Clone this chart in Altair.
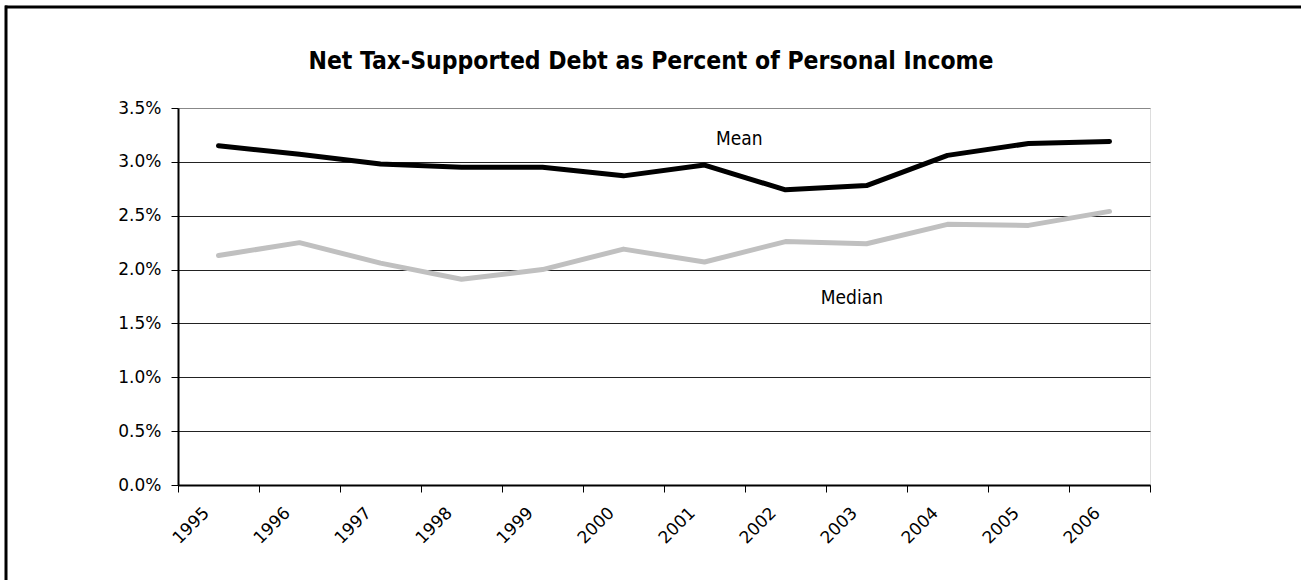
import altair as alt
import pandas as pd

years = list(range(1995, 2007))
mean_pct = [3.15, 3.07, 2.98, 2.95, 2.95, 2.87, 2.97, 2.74, 2.78, 3.06, 3.17, 3.19]
median_pct = [2.13, 2.25, 2.06, 1.91, 2.00, 2.19, 2.07, 2.26, 2.24, 2.42, 2.41, 2.54]
series_names = ["Mean", "Median"]
series_colors = ["#000000", "#c0c0c0"]
title_text = "Net Tax-Supported Debt as Percent of Personal Income"
y_ticks = [0, 0.005, 0.01, 0.015, 0.02, 0.025, 0.03, 0.035]

# annotation labels (data units)
label_text = ["Mean", "Median"]
label_year = [2001.43, 2002.82]
label_value = [0.0316, 0.0168]

NARROW = "Liberation Sans Narrow, Arial Narrow, DejaVu Sans Condensed, sans-serif"
TICKFONT = "DejaVu Sans"

df = pd.DataFrame({
    "year": years * 2,
    "value": [v / 100 for v in mean_pct + median_pct],
    "series": [series_names[0]] * len(years) + [series_names[1]] * len(years),
})
labels_df = pd.DataFrame({"text": label_text, "year": label_year, "value": label_value})
title_df = pd.DataFrame({"text": [title_text]})
one = pd.DataFrame({"a": [0]})

W, H = 972, 377
PAD_L, PAD_T = 178, 108
TOTAL_W, TOTAL_H = 1301, 580

x_scale = alt.Scale(domain=[years[0] - 0.5, years[-1] + 0.5], nice=False, zero=False)
y_scale = alt.Scale(domain=[0, 0.035], nice=False)
x_tick_values = [y - 0.5 for y in years] + [years[-1] + 0.5]

x_axis = alt.Axis(
    values=x_tick_values,
    labelExpr="datum.value < 2006 ? format(datum.value + 0.5, 'd') : ''",
    labelAngle=315, labelAlign="right", labelBaseline="middle",
    labelOffset=28, labelPadding=18,
    tickSize=7, tickColor="black", tickWidth=1,
    domainColor="black", domainWidth=2,
    grid=False, title=None,
    labelFont=TICKFONT, labelFontSize=17, labelColor="black",
)
y_axis = alt.Axis(
    values=y_ticks, format=".1%",
    tickSize=7, tickColor="black", tickWidth=1,
    domainColor="black", domainWidth=2,
    grid=True,
    gridColor=alt.condition("datum.value >= 0.035", alt.value("#888888"), alt.value("#222222")),
    gridWidth=1,
    labelPadding=10, title=None,
    labelFont=TICKFONT, labelFontSize=17, labelColor="black",
)

lines = alt.Chart(df).mark_line(strokeWidth=5, strokeJoin="round", strokeCap="round").encode(
    x=alt.X("year:Q", scale=x_scale, axis=x_axis),
    y=alt.Y("value:Q", scale=y_scale, axis=y_axis),
    color=alt.Color("series:N", scale=alt.Scale(domain=series_names, range=series_colors), legend=None),
    detail="series:N",
)

texts = alt.Chart(labels_df).mark_text(
    font=NARROW, fontSize=19, color="black", align="center", baseline="alphabetic"
).encode(
    x=alt.X("year:Q", scale=x_scale),
    y=alt.Y("value:Q", scale=y_scale),
    text="text:N",
)

title = alt.Chart(title_df).mark_text(
    font=NARROW, fontSize=24.5, fontWeight="bold", color="black", align="center", baseline="alphabetic"
).encode(
    x=alt.value(651 - PAD_L), y=alt.value(69 - PAD_T), text="text:N",
)

# outer frame: left and top edges only, drawn as thin filled bars
border_top = alt.Chart(one).mark_rect(fill="black", stroke=None, strokeWidth=0).encode(
    x=alt.value(5 - PAD_L), x2=alt.value(TOTAL_W + 40 - PAD_L),
    y=alt.value(5.5 - PAD_T), y2=alt.value(8.5 - PAD_T),
)
border_left = alt.Chart(one).mark_rect(fill="black", stroke=None, strokeWidth=0).encode(
    x=alt.value(4.5 - PAD_L), x2=alt.value(7.5 - PAD_L),
    y=alt.value(5.5 - PAD_T), y2=alt.value(TOTAL_H + 40 - PAD_T),
)

chart = alt.layer(border_top, border_left, lines, texts, title).properties(
    width=W, height=H,
    autosize=alt.AutoSizeParams(type="none"),
    padding={"left": PAD_L, "top": PAD_T, "right": TOTAL_W - PAD_L - W, "bottom": TOTAL_H - PAD_T - H},
).configure_view(
    stroke="#888888", strokeWidth=2
).configure(background="white")

chart.save("out.html", embed_options={"renderer": "svg", "actions": False})
